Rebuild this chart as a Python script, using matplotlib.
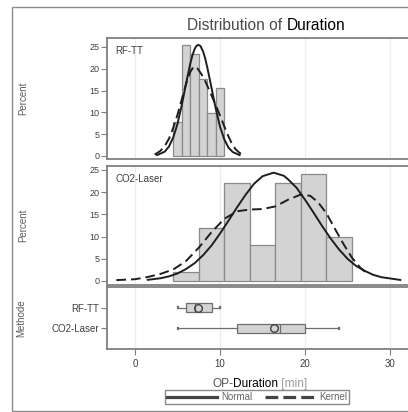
import matplotlib
matplotlib.use("Agg")
import matplotlib.pyplot as plt
from matplotlib.lines import Line2D
from matplotlib.patches import Rectangle

plt.rcParams['font.family'] = ['Liberation Sans', 'DejaVu Sans']

# ---- data ----
groups = ["RF-TT", "CO2-Laser"]

# histogram (percent per bin)
rf_centers = [5, 6, 7, 8, 9, 10]
rf_pct = [7.8, 25.5, 23.5, 17.6, 9.8, 15.7]
co2_centers = [6, 9, 12, 15, 18, 21, 24]
co2_pct = [2, 12, 22, 8, 22, 24, 10]

# fitted curves
rf_norm_x = [2.6, 3.5, 4.0, 4.5, 5.0, 5.5, 6.0, 6.5, 6.75, 7.0, 7.2, 7.45, 7.7,
             8.0, 8.25, 8.5, 9.0, 9.5, 10.0, 10.5, 11.0, 11.5, 12.3]
rf_norm_y = [0.2, 1.0, 2.2, 4.3, 7.4, 11.7, 16.6, 21.2, 23.1, 24.5, 25.2, 25.5, 25.2,
             24.0, 22.4, 20.3, 15.6, 10.8, 6.7, 3.8, 1.9, 0.9, 0.2]
rf_kern_x = [2.3, 3.0, 3.5, 4.0, 4.5, 5.0, 5.5, 6.0, 6.5, 6.9, 7.3, 7.8, 8.3, 8.8,
             9.3, 9.8, 10.3, 10.8, 11.3, 11.8, 12.3, 12.7]
rf_kern_y = [0.3, 1.2, 2.3, 4.0, 6.5, 9.5, 13.0, 16.5, 19.3, 20.5, 20.2, 18.8, 17.0, 14.8,
             12.5, 10.2, 7.8, 5.3, 3.2, 1.6, 0.7, 0.3]

co2_norm_x = [1.5, 3, 4, 5, 6, 7, 8, 9, 10, 11, 12, 13, 14, 15, 16.3, 17.5, 18, 19,
              20, 21, 22, 23, 24, 25, 26, 27, 28, 29, 31.2]
co2_norm_y = [0.26, 0.62, 1.05, 1.7, 2.7, 4.0, 5.8, 8.0, 10.7, 13.6, 16.6, 19.4, 21.9,
              23.6, 24.4, 23.7, 22.9, 21.0, 18.3, 15.4, 12.4, 9.6, 7.1, 5.0, 3.4, 2.3,
              1.4, 0.85, 0.24]
co2_kern_x = [-2.2, 0, 1.5, 3, 4.5, 6, 7.5, 9, 10.5, 12, 13.5, 15, 16.5, 18, 19.4,
              20.6, 21.5, 22.5, 23.5, 24.5, 25.5, 26.5, 27.4]
co2_kern_y = [0.2, 0.4, 0.9, 1.6, 2.6, 4.5, 7.5, 11.0, 14.0, 15.7, 16.1, 16.2, 16.8,
              18.3, 19.4, 19.2, 17.8, 15.3, 11.8, 8.4, 5.3, 3.0, 1.5]

# box plot summary
box_min = [5, 5]
box_q1 = [6, 12]
box_med = [7, 17]
box_q3 = [9, 20]
box_max = [10, 24]
box_mean = [7.43, 16.4]

x_ticks = [0, 10, 20, 30]
y_ticks = [0, 5, 10, 15, 20, 25]

# ---- layout (pixels of a 408x412 image) ----
W, H = 408, 412
def fx(px):
    return px / W
def fy(py):
    return 1 - py / H

XLIM = (-3.3, 35.5)
PPU = 8.5           # pixels per x unit
AX_LEFT = 107
ax_w = (XLIM[1] - XLIM[0]) * PPU

frame_c = '#808080'
text_c = '#404040'
bar_fc = '#d3d3d3'
bar_ec = '#8a8a8a'
line_c = '#1e1e1e'

fig = plt.figure(figsize=(W / 100, H / 100), dpi=100)

def make_ax(top, bottom):
    ax = fig.add_axes([fx(AX_LEFT), fy(bottom), ax_w / W, (bottom - top) / H])
    ax.set_xlim(*XLIM)
    for s in ax.spines.values():
        s.set_color(frame_c)
        s.set_linewidth(1.3)
    ax.set_xticks(x_ticks)
    ax.grid(axis='x', color='#ececec', linewidth=0.9)
    ax.set_axisbelow(True)
    ax.tick_params(axis='both', direction='out', length=4, width=0.8,
                   color=frame_c, labelcolor=text_c, pad=1.5)
    return ax

panels = [(38, 159, (-0.69, 27.06)), (166, 284.5, (-0.79, 25.9))]
hist_data = [(rf_centers, rf_pct, 1.0, rf_norm_x, rf_norm_y, rf_kern_x, rf_kern_y),
             (co2_centers, co2_pct, 3.0, co2_norm_x, co2_norm_y, co2_kern_x, co2_kern_y)]

for (top, bottom, ylim), (cx, pct, bw, nx, ny, kx, ky), name in zip(panels, hist_data, groups):
    ax = make_ax(top, bottom)
    ax.bar(cx, pct, width=bw, color=bar_fc, edgecolor=bar_ec, linewidth=0.9, zorder=2)
    ax.plot(nx, ny, color=line_c, lw=1.4, zorder=3)
    ax.plot(kx, ky, color=line_c, lw=1.4, dashes=(5, 2.5), zorder=3)
    ax.set_ylim(*ylim)
    ax.set_yticks(y_ticks)
    ax.tick_params(axis='y', labelsize=6.5)
    ax.tick_params(axis='x', bottom=False, labelbottom=False)
    ax.text(8 / ax_w, 1 - 8 / (bottom - top), name, transform=ax.transAxes,
            ha='left', va='top', fontsize=7, color=text_c)
    ax.set_ylabel('Percent', fontsize=7, color='#5a5a5a')
    ax.yaxis.set_label_coords((28 - AX_LEFT) / ax_w, 0.5)

# box plot panel
axb = make_ax(287, 349)
stats = []
for i, g in enumerate(groups):
    stats.append(dict(label=g, whislo=box_min[i], q1=box_q1[i], med=box_med[i],
                      q3=box_q3[i], whishi=box_max[i], mean=box_mean[i], fliers=[]))
axb.bxp(stats, positions=[1, 2], orientation='horizontal', widths=0.46,
        patch_artist=True, showmeans=True, capwidths=0.06,
        boxprops=dict(facecolor=bar_fc, edgecolor='#6e6e6e', linewidth=0.9),
        medianprops=dict(color='#6e6e6e', linewidth=0.9),
        whiskerprops=dict(color='#6e6e6e', linewidth=0.9),
        capprops=dict(color='#6e6e6e', linewidth=1.6),
        meanprops=dict(marker='o', markerfacecolor='none', markeredgecolor='#404040',
                       markersize=5.5, markeredgewidth=1.0))
axb.set_ylim(3, 0)
axb.set_yticks([1, 2])
axb.set_yticklabels(groups)
axb.set_xticks(x_ticks)
axb.set_xticklabels([str(t) for t in x_ticks])
axb.tick_params(axis='both', labelsize=7)
axb.tick_params(axis='x', pad=3)
axb.set_ylabel('Methode', fontsize=7, color='#5a5a5a')
axb.yaxis.set_label_coords((26 - AX_LEFT) / ax_w, 0.5)

# title (two tones)
t1 = fig.text(fx(187), fy(26), 'Distribution of ', fontsize=11.2, color='#4a4a4a',
              ha='left', va='center')
plt.annotate('Duration', xy=(1, 0), xycoords=t1, ha='left', va='bottom',
             fontsize=11.2, color='black', annotation_clip=False)

# x axis label (three pieces)
x1 = fig.text(fx(212), fy(384), 'OP-', fontsize=8.6, color='#555555', ha='left', va='center')
x2 = plt.annotate('Duration', xy=(1, 0), xycoords=x1, ha='left', va='bottom',
                  fontsize=8.6, color='black', annotation_clip=False,
                  bbox=dict(boxstyle='square,pad=0.05', fc='white', ec='none'))
plt.annotate(' [min]', xy=(1, 0), xycoords=x2, ha='left', va='bottom',
             fontsize=8.6, color='#9a9a9a', annotation_clip=False)

# legend
handles = [Line2D([], [], color='#444444', lw=2.3),
           Line2D([], [], color='#444444', lw=2.3, dashes=(4, 1.6))]
fig.legend(handles, ['Normal', 'Kernel'], loc='center',
           bbox_to_anchor=(fx(257), fy(397)), ncol=2, fontsize=7,
           frameon=True, fancybox=False, edgecolor='#8a8a8a', framealpha=1,
           handlelength=5.2, handletextpad=0.4, columnspacing=1.3,
           borderpad=0.22, labelcolor='#666666')

# outer frame
fig.add_artist(Rectangle((fx(12), fy(411)), 2, (411 - 7) / H, transform=fig.transFigure,
                         fill=False, edgecolor='#8c8c8c', linewidth=1.0))

fig.savefig('out.png', dpi=100)
